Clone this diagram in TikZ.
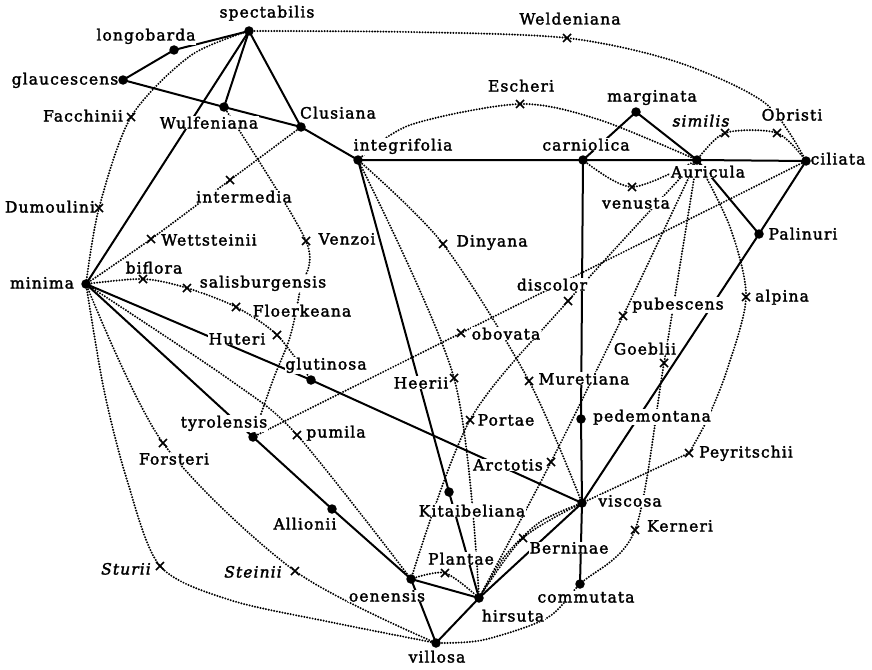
\documentclass[tikz,border=0pt]{standalone}
\usepackage{fontspec}
\setmainfont[LetterSpace=7,FakeBold=2]{DejaVu Serif}
\usetikzlibrary{shapes.misc}
\pgfdeclarelayer{edges}
\pgfsetlayers{edges,main}
\begin{document}
\begin{tikzpicture}[x=1pt,y=-1pt,
  sp/.style={circle,fill=black,inner sep=0pt,minimum size=9.5pt},
  hy/.style={cross out,draw=black,line width=1.5pt,inner sep=0pt,minimum size=6.5pt},
  lab/.style={anchor=base,fill=white,inner sep=0.6pt,font=\fontsize{15.5}{17}\selectfont},
  sol/.style={line width=2pt,black},
  dots/.style={line width=2.2pt,black,line cap=round,dash pattern=on 0pt off 2.8pt},
]
\useasboundingbox (0,0) rectangle (872,669);
% ---------- labels ----------
\node[lab] (l-spectabilis) at (267,17.5) {spectabilis};
\node[lab] (l-longobarda) at (146,40.5) {longobarda};
\node[lab] (l-glaucescens) at (65,84.5) {glaucescens};
\node[lab] (l-facchinii) at (83,121.5) {Facchinii};
\node[lab] (l-wulfeniana) at (209,128.5) {Wulfeniana};
\node[lab] (l-clusiana) at (338,118.5) {Clusiana};
\node[lab] (l-integrifolia) at (403,150.5) {integrifolia};
\node[lab] (l-escheri) at (521,91.5) {Escheri};
\node[lab] (l-weldeniana) at (570,24.5) {Weldeniana};
\node[lab] (l-marginata) at (652,101.5) {marginata};
\node[lab] (l-carniolica) at (586,150.5) {carniolica};
\node[lab] (l-similis) at (701,126.5) {\itshape similis};
\node[lab] (l-obristi) at (792,120.5) {Obristi};
\node[lab] (l-auricula) at (708,177.5) {Auricula};
\node[lab] (l-ciliata) at (838,164.5) {ciliata};
\node[lab] (l-venusta) at (636,208.5) {venusta};
\node[lab] (l-palinuri) at (803,239.5) {Palinuri};
\node[lab] (l-dumoulini) at (50,212.5) {Dumoulini};
\node[lab] (l-intermedia) at (244,202.5) {intermedia};
\node[lab] (l-wettsteinii) at (209,245.5) {Wettsteinii};
\node[lab] (l-venzoi) at (347,244.5) {Venzoi};
\node[lab] (l-dinyana) at (492,246.5) {Dinyana};
\node[lab] (l-biflora) at (154,273.5) {biflora};
\node[lab] (l-salisburgensis) at (263,287.5) {salisburgensis};
\node[lab] (l-floerkeana) at (302,316.5) {Floerkeana};
\node[lab] (l-huteri) at (237,344.5) {Huteri};
\node[lab] (l-minima) at (42,288.5) {minima};
\node[lab] (l-discolor) at (552,290.5) {discolor};
\node[lab] (l-pubescens) at (678,309.5) {pubescens};
\node[lab] (l-alpina) at (782,301.5) {alpina};
\node[lab] (l-obovata) at (506,339.5) {obovata};
\node[lab] (l-goeblii) at (645,354.5) {Goeblii};
\node[lab] (l-glutinosa) at (326,369.5) {glutinosa};
\node[lab] (l-heerii) at (421,388.5) {Heerii};
\node[lab] (l-muretiana) at (584,384.5) {Muretiana};
\node[lab] (l-pedemontana) at (652,421.5) {pedemontana};
\node[lab] (l-portae) at (506,425.5) {Portae};
\node[lab] (l-tyrolensis) at (224,427.5) {tyrolensis};
\node[lab] (l-pumila) at (336,437.5) {pumila};
\node[lab] (l-arctotis) at (508,470.5) {Arctotis};
\node[lab] (l-peyritschii) at (746,457.5) {Peyritschii};
\node[lab] (l-forsteri) at (174,464.5) {Forsteri};
\node[lab] (l-kitaibeliana) at (472,516.5) {Kitaibeliana};
\node[lab] (l-viscosa) at (630,506.5) {viscosa};
\node[lab] (l-allionii) at (305,529.5) {Allionii};
\node[lab] (l-kerneri) at (680,531.5) {Kerneri};
\node[lab] (l-berninae) at (569,553.5) {Berninae};
\node[lab] (l-plantae) at (461,564.5) {Plantae};
\node[lab] (l-sturii) at (126,574.5) {\itshape Sturii};
\node[lab] (l-steinii) at (253,577.5) {\itshape Steinii};
\node[lab] (l-oenensis) at (387,601.5) {oenensis};
\node[lab] (l-hirsuta) at (513,621.5) {hirsuta};
\node[lab] (l-commutata) at (586,602.5) {commutata};
\node[lab] (l-villosa) at (437,662.5) {villosa};
% ---------- species (dots) ----------
\node[sp] (spectabilis) at (249,31) {};
\node[sp] (longobarda) at (174,50) {};
\node[sp] (glaucescens) at (123,80) {};
\node[sp] (wulfeniana) at (224,107) {};
\node[sp] (clusiana) at (301,127) {};
\node[sp] (integrifolia) at (358,160) {};
\node[sp] (carniolica) at (583,160) {};
\node[sp] (marginata) at (636,112) {};
\node[sp] (auricula) at (697,160) {};
\node[sp] (ciliata) at (806,161) {};
\node[sp] (palinuri) at (759,234) {};
\node[sp] (minima) at (86,284) {};
\node[sp] (glutinosa) at (311,380) {};
\node[sp] (tyrolensis) at (253,437) {};
\node[sp] (allionii) at (332,509) {};
\node[sp] (kitaibeliana) at (449,492) {};
\node[sp] (oenensis) at (411,579) {};
\node[sp] (hirsuta) at (479,598) {};
\node[sp] (villosa) at (436,643) {};
\node[sp] (pedemontana) at (581,419) {};
\node[sp] (viscosa) at (582,503) {};
\node[sp] (commutata) at (580,584) {};
% ---------- hybrids (crosses) ----------
\node[hy] (weldeniana) at (567,38) {};
\node[hy] (escheri) at (520,104) {};
\node[hy] (facchinii) at (131,117) {};
\node[hy] (dumoulini) at (99,208) {};
\node[hy] (intermedia) at (230,180) {};
\node[hy] (wettsteinii) at (151,239) {};
\node[hy] (venzoi) at (306,241) {};
\node[hy] (biflora) at (143,279) {};
\node[hy] (salisburgensis) at (187,288) {};
\node[hy] (floerkeana) at (236,307) {};
\node[hy] (huteri) at (277,335) {};
\node[hy] (similis) at (725,133) {};
\node[hy] (obristi) at (777,133) {};
\node[hy] (venusta) at (632,187) {};
\node[hy] (dinyana) at (443,244) {};
\node[hy] (discolor) at (568,301) {};
\node[hy] (pubescens) at (623,316) {};
\node[hy] (obovata) at (461,333) {};
\node[hy] (goeblii) at (664,363) {};
\node[hy] (heerii) at (454,378) {};
\node[hy] (muretiana) at (529,381) {};
\node[hy] (alpina) at (746,297) {};
\node[hy] (portae) at (470,420) {};
\node[hy] (pumila) at (297,435) {};
\node[hy] (arctotis) at (551,462) {};
\node[hy] (peyritschii) at (689,453) {};
\node[hy] (forsteri) at (163,443) {};
\node[hy] (kerneri) at (635,530) {};
\node[hy] (berninae) at (523,538) {};
\node[hy] (plantae) at (445,573) {};
\node[hy] (sturii) at (160,566) {};
\node[hy] (steinii) at (295,571) {};
% ---------- connectors ----------
\begin{pgfonlayer}{edges}
\fill[white] (0,0) rectangle (872,669);
% solid
\draw[sol] (spectabilis.center) -- (longobarda.center) -- (glaucescens.center);
\draw[sol] (glaucescens.center) -- (wulfeniana.center) -- (clusiana.center) -- (integrifolia.center) -- (carniolica.center) -- (auricula.center) -- (ciliata.center);
\draw[sol] (spectabilis.center) -- (wulfeniana.center);
\draw[sol] (spectabilis.center) -- (clusiana.center);
\draw[sol] (spectabilis.center) -- (minima.center);
\draw[sol] (carniolica.center) -- (marginata.center) -- (auricula.center) -- (palinuri.center) -- (ciliata.center);
\draw[sol] (palinuri.center) -- (viscosa.center);
\draw[sol] (carniolica.center) -- (pedemontana.center) -- (viscosa.center) -- (commutata.center);
\draw[sol] (integrifolia.center) -- (kitaibeliana.center) -- (hirsuta.center);
\draw[sol] (minima.center) -- (glutinosa.center) -- (viscosa.center);
\draw[sol] (minima.center) -- (tyrolensis.center) -- (allionii.center) -- (oenensis.center);
\draw[sol] (oenensis.center) -- (hirsuta.center) -- (villosa.center) -- (oenensis.center);
\draw[sol] (hirsuta.center) -- (viscosa.center);
% dotted
\draw[dots] plot[smooth] coordinates {(spectabilis.center) (410,32) (weldeniana.center) (677,62) (765,103) (ciliata.center)};
\draw[dots] plot[smooth] coordinates {(spectabilis.center) (190,56) (facchinii.center) (dumoulini.center) (minima.center)};
\draw[dots] plot[smooth] coordinates {(minima.center) (104,390) (127,480) (sturii.center) (230,600) (330,622) (villosa.center)};
\draw[dots] plot[smooth] coordinates {(minima.center) (forsteri.center) (steinii.center) (villosa.center)};
\draw[dots] plot[smooth] coordinates {(clusiana.center) (intermedia.center) (wettsteinii.center) (minima.center)};
\draw[dots] plot[smooth] coordinates {(wulfeniana.center) (venzoi.center) (300,290) (290,337) (273,380) (tyrolensis.center)};
\draw[dots] plot[smooth] coordinates {(minima.center) (biflora.center) (salisburgensis.center) (floerkeana.center) (huteri.center) (glutinosa.center)};
\draw[dots] plot[smooth] coordinates {(minima.center) (230,380) (pumila.center) (oenensis.center)};
\draw[dots] plot[smooth] coordinates {(integrifolia.center) (410,125) (escheri.center) (600,120) (auricula.center)};
\draw[dots] plot[smooth] coordinates {(carniolica.center) (venusta.center) (auricula.center)};
\draw[dots] plot[smooth] coordinates {(auricula.center) (similis.center) (obristi.center) (ciliata.center)};
\draw[dots] plot[smooth] coordinates {(auricula.center) (discolor.center) (portae.center) (oenensis.center)};
\draw[dots] plot[smooth] coordinates {(auricula.center) (pubescens.center) (arctotis.center) (hirsuta.center)};
\draw[dots] plot[smooth] coordinates {(auricula.center) (goeblii.center) (kerneri.center) (commutata.center) (547,618) (483,640) (villosa.center)};
\draw[dots] plot[smooth] coordinates {(auricula.center) (730,227) (alpina.center) (727,370) (707,420) (peyritschii.center)};
\draw[dots] (peyritschii.center) -- (viscosa.center);
\draw[dots] plot[smooth] coordinates {(viscosa.center) (540,522) (505,556) (hirsuta.center)};
\draw[dots] plot[smooth] coordinates {(viscosa.center) (berninae.center) (hirsuta.center)};
\draw[dots] plot[smooth] coordinates {(integrifolia.center) (dinyana.center) (muretiana.center) (viscosa.center)};
\draw[dots] plot[smooth] coordinates {(integrifolia.center) (heerii.center) (hirsuta.center)};
\draw[dots] (tyrolensis.center) -- (obovata.center) -- (ciliata.center);
\draw[dots] plot[smooth] coordinates {(oenensis.center) (plantae.center) (hirsuta.center)};
\end{pgfonlayer}
\end{tikzpicture}
\end{document}
